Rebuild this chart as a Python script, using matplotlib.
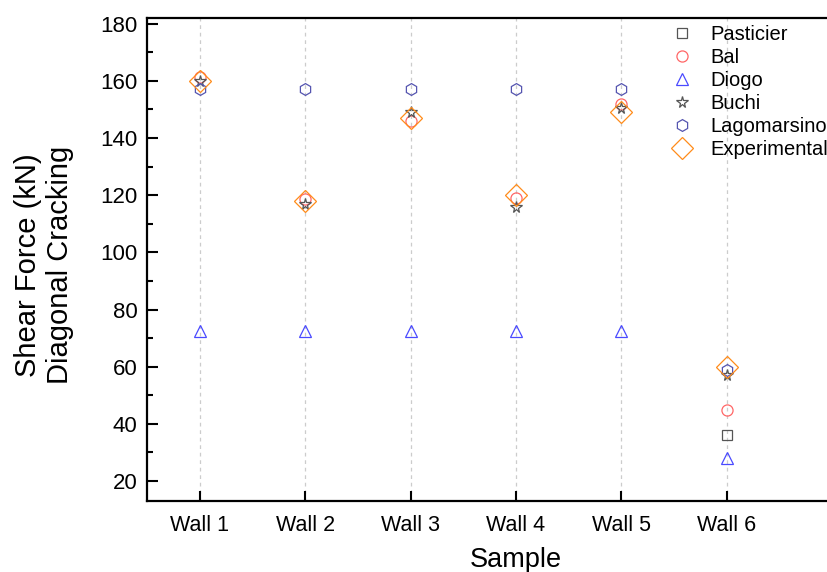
import numpy as np
import matplotlib
matplotlib.use("Agg")
import matplotlib.pyplot as plt
from matplotlib.ticker import MultipleLocator

plt.rcParams['font.family'] = ['Liberation Sans', 'DejaVu Sans']

walls = ["Wall 1", "Wall 2", "Wall 3", "Wall 4", "Wall 5", "Wall 6"]
pasticier = [np.nan, np.nan, np.nan, np.nan, np.nan, 36]
bal = [161.5, 118.5, 146, 119, 152, 45]
diogo = [72.5, 72.5, 72.5, 72.5, 72.5, 28]
buchi = [160, 117, 149, 116, 150.5, 57]
lagomarsino = [157, 157, 157, 157, 157, 59]
experimental = [160, 118, 147, 120, 149, 60]

x = np.arange(1, len(walls) + 1)

fig = plt.figure(figsize=(8.27, 5.72), dpi=100)
ax = fig.add_axes([147/827, 71/572, 738/827, 483/572])
ax.patch.set_alpha(0)

for xi in x:
    ax.axvline(xi, color='#cccccc', lw=0.9, ls=(0, (3, 3)), zorder=0)

lw = 0.9
series = [
    ("Pasticier", pasticier, 's', '#555555', 7.0),
    ("Bal", bal, 'o', '#ff6666', 8.0),
    ("Diogo", diogo, '^', '#4a4aff', 8.5),
    ("Buchi", buchi, '*', '#555555', 8.5),
    ("Lagomarsino", lagomarsino, 'h', '#5555b0', 8.5),
    ("Experimental", experimental, 'D', '#ff8c1a', 11.5),
]
for name, vals, mk, col, ms in series:
    ax.plot(x, vals, ls='none', marker=mk, ms=ms, mfc='none', mec=col,
            mew=lw, label=name, zorder=3)

ax.set_xlim(0.5, 7.5)
ax.set_ylim(13, 182)
ax.set_xticks(x)
ax.set_xticklabels(walls)
ax.set_yticks(np.arange(20, 181, 20))
ax.yaxis.set_minor_locator(MultipleLocator(10))
ax.tick_params(axis='y', which='major', direction='in', length=8, width=1.5,
               labelsize=16, pad=7)
ax.tick_params(axis='y', which='minor', direction='in', length=4.5, width=1.5)
ax.tick_params(axis='x', which='major', direction='in', length=7, width=1.5,
               labelsize=15.5, pad=10)
for s in ax.spines.values():
    s.set_linewidth(1.6)

ax.set_xlabel("Sample", fontsize=19.5, labelpad=8)
fig.text(0.053, 0.537, "Shear Force (kN)\nDiagonal Cracking", rotation=90,
         ha='center', va='center', fontsize=21, linespacing=1.2)

leg = ax.legend(loc='upper left', bbox_to_anchor=(672/827, 1 - 25/572),
                bbox_transform=fig.transFigure, frameon=False, fontsize=14.5,
                handlelength=1.0, handletextpad=0.9, labelspacing=0.2,
                borderpad=0, borderaxespad=0)

fig.savefig("out.png", dpi=100)
